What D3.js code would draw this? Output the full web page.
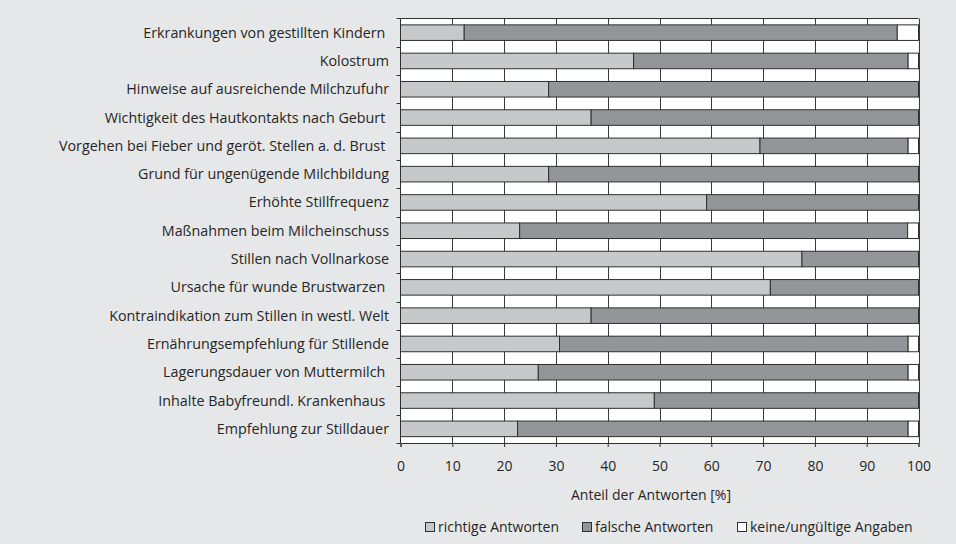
<!DOCTYPE html>
<html>
<head>
<meta charset="utf-8">
<script src="https://cdn.jsdelivr.net/npm/d3@7"></script>
<style>
  body { margin: 0; background: #e6e7e8; }
  svg { display: block; }
  text { font-family: "Open Sans", sans-serif; fill: #262626; }
</style>
</head>
<body>
<svg id="chart"></svg>
<script>
// Kategorien (von oben nach unten)
const categories = [
    "Erkrankungen von gestillten Kindern ",
    "Kolostrum",
    "Hinweise auf ausreichende Milchzufuhr",
    "Wichtigkeit des Hautkontakts nach Geburt ",
    "Vorgehen bei Fieber und geröt. Stellen a. d. Brust ",
    "Grund für ungenügende Milchbildung",
    "Erhöhte Stillfrequenz",
    "Maßnahmen beim Milcheinschuss",
    "Stillen nach Vollnarkose",
    "Ursache für wunde Brustwarzen ",
    "Kontraindikation zum Stillen in westl. Welt",
    "Ernährungsempfehlung für Stillende",
    "Lagerungsdauer von Muttermilch ",
    "Inhalte Babyfreundl. Krankenhaus ",
    "Empfehlung zur Stilldauer"
];

// Anteile in %
const richtig = [12.3, 45.0, 28.6, 36.8, 69.4, 28.6, 59.1, 23.0, 77.5, 71.4, 36.8, 30.7, 26.6, 49.0, 22.6];
const falsche = [83.6, 53.0, 71.4, 63.2, 28.6, 71.4, 40.9, 74.9, 22.5, 28.6, 63.2, 67.3, 71.4, 51.0, 75.4];
const keine   = [4.1, 2.0, 0, 0, 2.0, 0, 0, 2.1, 0, 0, 0, 2.0, 2.0, 0, 2.0];

const seriesNames = ["richtige Antworten", "falsche Antworten", "keine/ungültige Angaben"];
const seriesColors = ["#c7c8ca", "#939598", "#ffffff"];
const xTicks = [0, 10, 20, 30, 40, 50, 60, 70, 80, 90, 100];

const width = 956, height = 544;
const fontSize = "14px";
const svg = d3.select("#chart").attr("width", width).attr("height", height);

// Tabelle fuer d3.stack
const rows = categories.map((c, i) => ({ cat: c, r: richtig[i], f: falsche[i], k: keine[i] }));
const stacked = d3.stack().keys(["r", "f", "k"])(rows);

const x = d3.scaleLinear().domain([0, 100]).range([400.5, 918.5]);
const y = d3.scaleBand().domain(categories).range([18.5, 443]).paddingInner(0.45).paddingOuter(0.225);

// Plotflaeche
svg.append("rect")
    .attr("x", x(0)).attr("y", 18.5)
    .attr("width", x(100) - x(0)).attr("height", 443 - 18.5)
    .attr("fill", "#fff");

// vertikale Gitterlinien
svg.append("g")
    .selectAll("line")
    .data(xTicks.slice(1))
    .join("line")
    .attr("x1", d => Math.round(x(d)) + 0.5).attr("x2", d => Math.round(x(d)) + 0.5)
    .attr("y1", 18.5).attr("y2", 443)
    .attr("stroke", "#3a3a3a")
    .attr("stroke-width", 1);

// Balken
svg.append("g")
    .selectAll("g")
    .data(stacked)
    .join("g")
    .attr("fill", (d, i) => seriesColors[i])
    .selectAll("rect")
    .data(d => d.filter(s => s[1] - s[0] > 0))
    .join("rect")
    .attr("x", d => x(d[0]))
    .attr("y", d => y(d.data.cat))
    .attr("width", d => x(d[1]) - x(d[0]))
    .attr("height", y.bandwidth())
    .attr("stroke", "#2f2f2f")
    .attr("stroke-width", 1);

// Rahmen oben
svg.append("line")
    .attr("x1", x(0)).attr("x2", x(100))
    .attr("y1", 18.5).attr("y2", 18.5)
    .attr("stroke", "#2f2f2f");

// y-Achse
svg.append("line")
    .attr("x1", x(0)).attr("x2", x(0))
    .attr("y1", 18.5).attr("y2", 443)
    .attr("stroke", "#2f2f2f");

const bounds = categories.map(c => y(c) + y.bandwidth() / 2 - y.step() / 2).concat([443]);
svg.append("g")
    .selectAll("line")
    .data(bounds)
    .join("line")
    .attr("x1", x(0) - 4).attr("x2", x(0))
    .attr("y1", d => Math.round(d) + 0.5).attr("y2", d => Math.round(d) + 0.5)
    .attr("stroke", "#2f2f2f");

svg.append("g")
    .selectAll("text")
    .data(categories)
    .join("text")
    .attr("x", 389)
    .attr("y", d => y(d) + y.bandwidth() / 2)
    .attr("dy", "0.35em")
    .attr("text-anchor", "end")
    .style("white-space", "pre")
    .style("font-size", "14.3px")
    .text(d => d);

// x-Achse
const xAxis = svg.append("g")
    .attr("transform", "translate(0,443)")
    .call(d3.axisBottom(x).tickValues(xTicks).tickSize(4).tickPadding(14));
xAxis.select(".domain").attr("stroke", "#2f2f2f");
xAxis.selectAll(".tick line").attr("stroke", "#2f2f2f");
xAxis.selectAll(".tick text")
    .style("font-family", "'Open Sans', sans-serif")
    .style("font-size", fontSize)
    .attr("fill", "#262626");

svg.append("text")
    .attr("x", 651).attr("y", 500)
    .attr("text-anchor", "middle")
    .style("font-size", fontSize)
    .text("Anteil der Antworten [%]");

// Legende
const legendX = [425, 582, 737];
const legend = svg.append("g")
    .selectAll("g")
    .data(seriesNames)
    .join("g")
    .attr("transform", (d, i) => `translate(${legendX[i]},522)`);
legend.append("rect")
    .attr("x", 0.5).attr("y", 0.5)
    .attr("width", 9).attr("height", 9)
    .attr("fill", (d, i) => seriesColors[i])
    .attr("stroke", "#2f2f2f");
legend.append("text")
    .attr("x", 13).attr("y", 5)
    .attr("dy", "0.35em")
    .style("font-size", fontSize)
    .text(d => d);
</script>
</body>
</html>
